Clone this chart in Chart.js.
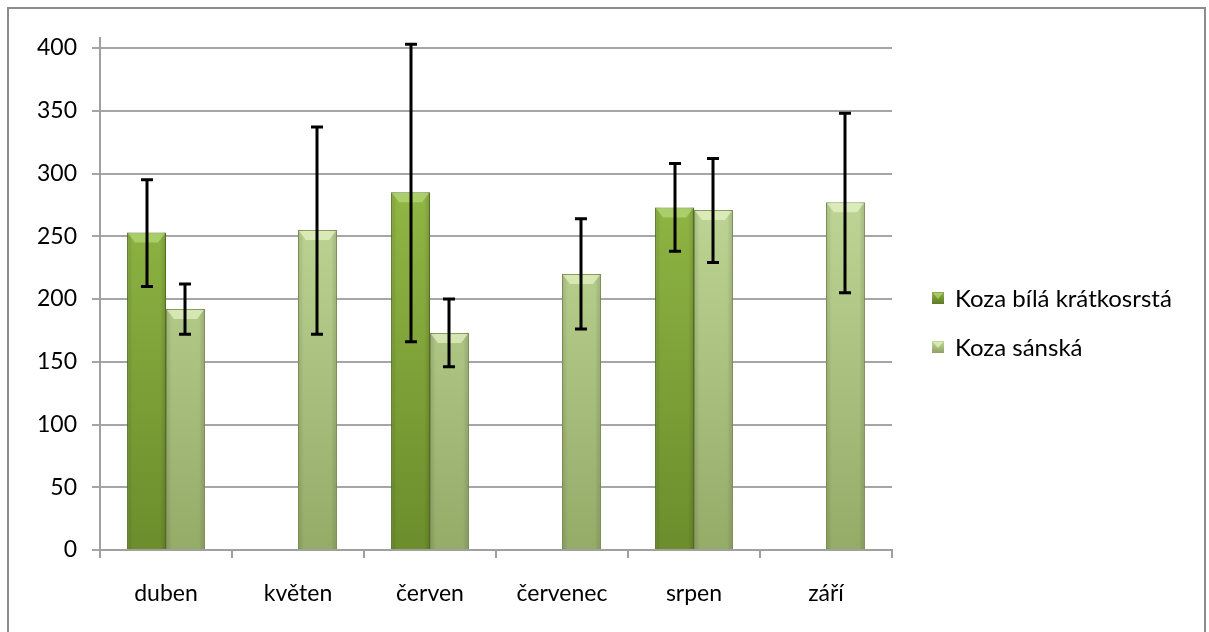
<!DOCTYPE html>
<html><head><meta charset="utf-8">
<script src="https://cdn.jsdelivr.net/npm/chart.js@4"></script>
<style>html,body{margin:0;padding:0;background:#fff}#wrap{width:1209px;height:632px;position:relative}</style>
</head><body><div id="wrap"><canvas id="c" width="1209" height="632"></canvas></div>
<script>
const categories = ['duben', 'květen', 'červen', 'červenec', 'srpen', 'září'];
const seriesNames = ['Koza bílá krátkosrstá', 'Koza sánská'];
const bilaValues = [253, null, 285, null, 273, null];
const bilaErrLow = [210, null, 166, null, 238, null];
const bilaErrHigh = [295, null, 403, null, 308, null];
const sanskaValues = [192, 255, 173, 220, 271, 277];
const sanskaErrLow = [172, 172, 146, 176, 229, 205];
const sanskaErrHigh = [212, 337, 200, 264, 312, 348];
const yTicks = [0, 50, 100, 150, 200, 250, 300, 350, 400];

const errLows = [bilaErrLow, sanskaErrLow];
const errHighs = [bilaErrHigh, sanskaErrHigh];

Chart.defaults.font.family = 'Lato, "Open Sans", sans-serif';
Chart.defaults.font.size = 23;
Chart.defaults.color = '#000';

const ctx = document.getElementById('c').getContext('2d');

function vgrad(c1, c2) {
  return function(context) {
    const chart = context.chart;
    const area = chart.chartArea;
    if (!area) return c1;
    const g = chart.ctx.createLinearGradient(0, area.top, 0, area.bottom);
    g.addColorStop(0, c1);
    g.addColorStop(1, c2);
    return g;
  };
}

const styles = [
  {top: '#9ec64e', bottom: '#6c8d2c', border: '#5f7d26', bevel: 'rgba(190,225,130,0.6)', marker1: '#8fb24a', marker2: '#5d7a26'},
  {top: '#cfe7a8', bottom: '#95ab68', border: '#8a9e60', bevel: 'rgba(235,248,205,0.65)', marker1: '#c3da98', marker2: '#8da265'}
];

const bevelPlugin = {
  id: 'bevel',
  afterDatasetsDraw(chart) {
    const c = chart.ctx;
    chart.data.datasets.forEach((ds, di) => {
      const meta = chart.getDatasetMeta(di);
      meta.data.forEach((bar, i) => {
        if (ds.data[i] == null) return;
        const w = bar.width, l = bar.x - w / 2, r = bar.x + w / 2, t = bar.y, b = bar.base;
        c.save();
        const hg = c.createLinearGradient(l, 0, r, 0);
        hg.addColorStop(0, 'rgba(0,0,0,0.12)');
        hg.addColorStop(0.15, 'rgba(0,0,0,0)');
        hg.addColorStop(0.85, 'rgba(0,0,0,0)');
        hg.addColorStop(1, 'rgba(0,0,0,0.15)');
        c.fillStyle = hg;
        c.fillRect(l, t, w, b - t);
        c.fillStyle = styles[di].bevel;
        c.beginPath();
        c.moveTo(l + 1, t + 1);
        c.lineTo(r - 1, t + 1);
        c.lineTo(r - 8, t + 10);
        c.lineTo(l + 8, t + 10);
        c.closePath();
        c.fill();
        c.restore();
      });
    });
  }
};

const errorBarPlugin = {
  id: 'errbars',
  afterDatasetsDraw(chart) {
    const c = chart.ctx;
    const ys = chart.scales.y;
    c.save();
    c.strokeStyle = '#000';
    c.lineWidth = 3;
    chart.data.datasets.forEach((ds, di) => {
      const meta = chart.getDatasetMeta(di);
      meta.data.forEach((bar, i) => {
        const lo = errLows[di][i], hi = errHighs[di][i];
        if (lo == null || hi == null) return;
        const x = Math.round(bar.x);
        const y1 = ys.getPixelForValue(hi), y2 = ys.getPixelForValue(lo);
        c.beginPath();
        c.moveTo(x, y1); c.lineTo(x, y2);
        c.moveTo(x - 6, y1); c.lineTo(x + 6, y1);
        c.moveTo(x - 6, y2); c.lineTo(x + 6, y2);
        c.stroke();
      });
    });
    c.restore();
  }
};

const frameLegendPlugin = {
  id: 'frameLegend',
  afterDraw(chart) {
    const c = chart.ctx;
    c.save();
    c.strokeStyle = '#8c8c8c';
    c.lineWidth = 2;
    c.strokeRect(8, 8, 1197, 700);
    const area = chart.chartArea;
    c.strokeStyle = '#a0a0a0';
    c.beginPath();
    c.moveTo(area.left, area.top - 11);
    c.lineTo(area.left, area.top);
    c.stroke();
    const mx = 932, rows = [298, 347];
    chart.data.datasets.forEach((ds, di) => {
      const y = rows[di];
      const g = c.createLinearGradient(0, y - 6, 0, y + 6);
      g.addColorStop(0, styles[di].marker1);
      g.addColorStop(1, styles[di].marker2);
      c.fillStyle = g;
      c.fillRect(mx, y - 6, 12, 12);
      c.fillStyle = styles[di].bevel;
      c.beginPath();
      c.moveTo(mx + 1, y - 5); c.lineTo(mx + 11, y - 5); c.lineTo(mx + 6, y + 1); c.closePath(); c.fill();
      c.fillStyle = '#000';
      c.font = '24px Lato, "Open Sans", sans-serif';
      c.textBaseline = 'middle';
      c.textAlign = 'left';
      c.fillText(ds.label, 955, y + 1);
    });
    c.restore();
  }
};

new Chart(ctx, {
  type: 'bar',
  data: {
    labels: categories,
    datasets: [
      {label: seriesNames[0], data: bilaValues, backgroundColor: vgrad(styles[0].top, styles[0].bottom), borderColor: styles[0].border, borderWidth: 1},
      {label: seriesNames[1], data: sanskaValues, backgroundColor: vgrad(styles[1].top, styles[1].bottom), borderColor: styles[1].border, borderWidth: 1}
    ]
  },
  options: {
    responsive: false,
    animation: false,
    devicePixelRatio: 1,
    layout: {padding: {top: 48, right: 317, bottom: 0, left: 0}},
    datasets: {bar: {categoryPercentage: 0.59, barPercentage: 1}},
    plugins: {legend: {display: false}, tooltip: {enabled: false}},
    scales: {
      x: {
        grid: {drawOnChartArea: false, drawTicks: true, tickLength: 8, color: '#a0a0a0', lineWidth: 2},
        border: {color: '#a0a0a0', width: 2},
        ticks: {padding: 22, maxRotation: 0, autoSkip: false},
        afterFit(s) { s.height = 82; }
      },
      y: {
        min: 0, max: 400,
        afterBuildTicks(s) { s.ticks = yTicks.map(v => ({value: v})); },
        grid: {color: '#a6a6a6', lineWidth: 2, tickLength: 8},
        border: {color: '#a0a0a0', width: 2},
        ticks: {padding: 15},
        afterFit(s) { s.width = 100; }
      }
    }
  },
  plugins: [bevelPlugin, errorBarPlugin, frameLegendPlugin]
});
</script>
</body></html>
